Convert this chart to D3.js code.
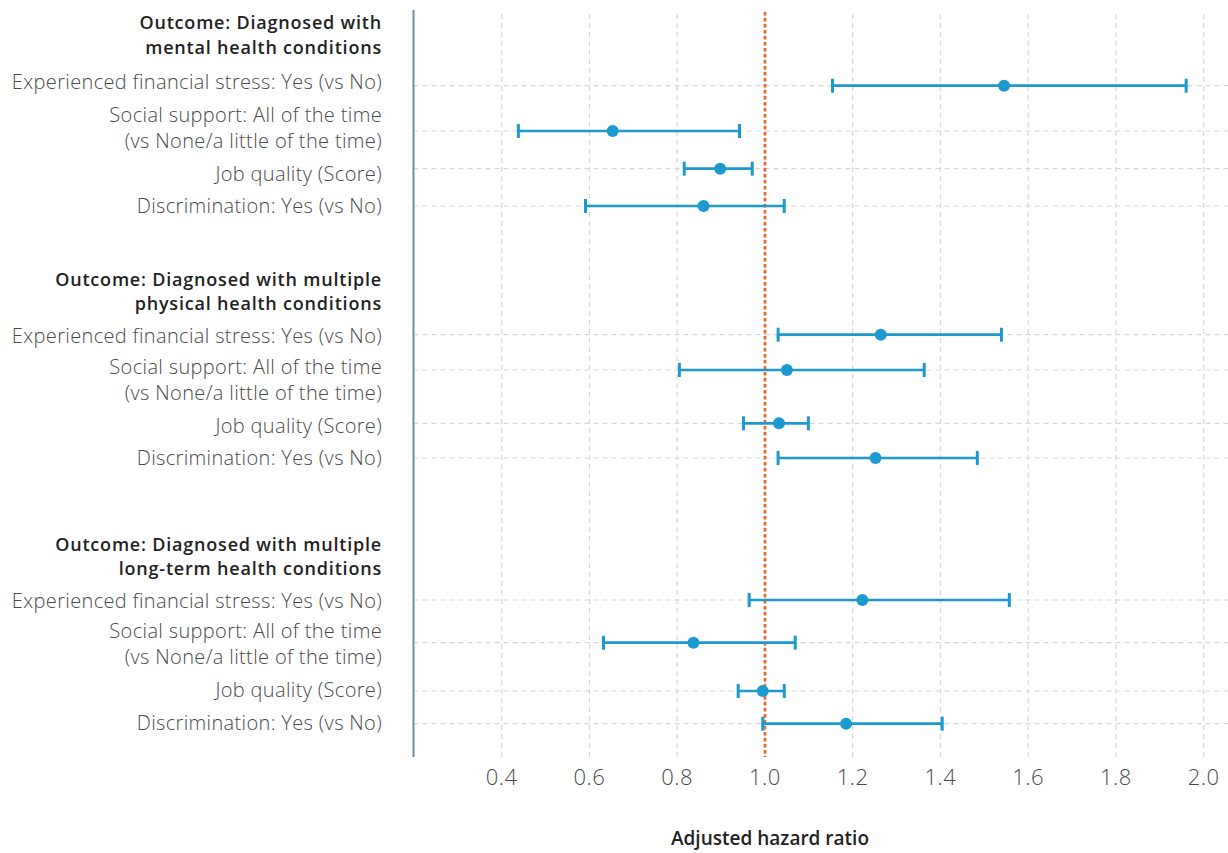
<!DOCTYPE html>
<html>
<head>
<meta charset="utf-8">
<script src="https://cdn.jsdelivr.net/npm/d3@7"></script>
<style>
  html, body { margin: 0; padding: 0; background: #fff; }
  svg { display: block; }
  text { font-family: "Open Sans", "Lato", sans-serif; }
</style>
</head>
<body>
<svg id="chart" width="1228" height="853"></svg>
<script>
// Outcomes (panel headers, two lines each)
const outcomes = [
  ["Outcome: Diagnosed with", "mental health conditions"],
  ["Outcome: Diagnosed with multiple", "physical health conditions"],
  ["Outcome: Diagnosed with multiple", "long-term health conditions"]
];

// Exposure labels (some wrap onto two lines)
const exposures = [
  ["Experienced financial stress: Yes (vs No)"],
  ["Social support: All of the time", "(vs None/a little of the time)"],
  ["Job quality (Score)"],
  ["Discrimination: Yes (vs No)"]
];

// Adjusted hazard ratios with 95% CI, one array per outcome, ordered as exposures
const estimate = [
  [1.545, 0.653, 0.898, 0.860],
  [1.264, 1.050, 1.032, 1.252],
  [1.222, 0.837, 0.995, 1.185]
];
const lower = [
  [1.154, 0.438, 0.816, 0.591],
  [1.030, 0.805, 0.951, 1.030],
  [0.964, 0.632, 0.939, 0.995]
];
const upper = [
  [1.960, 0.942, 0.971, 1.044],
  [1.539, 1.363, 1.099, 1.484],
  [1.557, 1.069, 1.044, 1.404]
];

// Vertical positions (layout units) of each row's estimate, per outcome
const rowPos = [
  [8.57, 13.10, 16.87, 20.60],
  [33.47, 37.00, 42.33, 45.80],
  [60.00, 64.27, 69.10, 72.37]
];
// Vertical positions of the exposure label lines (first line of each label)
const labelPos = [
  [8.17, 11.50, 17.40, 20.57],
  [33.60, 36.67, 42.60, 45.80],
  [60.10, 63.10, 69.00, 72.30]
];
// Vertical positions of the outcome header lines
const headerPos = [2.40, 28.07, 54.57];

const xTicks = [0.4, 0.6, 0.8, 1.0, 1.2, 1.4, 1.6, 1.8, 2.0];
const reference = 1.0;
const xTitle = "Adjusted hazard ratio";

// ---- layout ----
const plotLeft = 413.5, plotRight = 1228, plotTop = 10, plotBottom = 757;

const x = d3.scaleLinear().domain([0.4, 2.0]).range([501.7, 1203.7]);
const y = d3.scaleLinear().domain([0, 10]).range([0, 100]);

const svg = d3.select("#chart");

const colGrid = "#d3d9d7";
const colAxis = "#6e90a6";
const colMark = "#1c9ad0";
const colRef = "#f0642c";
const colLabel = "#4a4a4a";
const colHead = "#222222";

// vertical grid lines
svg.append("g").selectAll("line").data(xTicks).join("line")
  .attr("x1", d => x(d)).attr("x2", d => x(d))
  .attr("y1", plotTop + 4).attr("y2", plotBottom)
  .attr("stroke", colGrid).attr("stroke-width", 1.2)
  .attr("stroke-dasharray", "5,4");

// flatten to one record per row
const rows = [];
estimate.forEach((arr, o) => arr.forEach((v, i) => rows.push({
  o, i, est: v, lo: lower[o][i], hi: upper[o][i], pos: rowPos[o][i]
})));

// horizontal grid lines at every row
svg.append("g").selectAll("line").data(rows).join("line")
  .attr("x1", plotLeft).attr("x2", plotRight)
  .attr("y1", d => y(d.pos)).attr("y2", d => y(d.pos))
  .attr("stroke", colGrid).attr("stroke-width", 1.2)
  .attr("stroke-dasharray", "5,4");

// left axis line
svg.append("line")
  .attr("x1", plotLeft).attr("x2", plotLeft)
  .attr("y1", plotTop).attr("y2", plotBottom)
  .attr("stroke", colAxis).attr("stroke-width", 2);

// reference line at HR = 1
svg.append("line")
  .attr("x1", x(reference)).attr("x2", x(reference))
  .attr("y1", plotTop + 2).attr("y2", plotBottom)
  .attr("stroke", colRef).attr("stroke-width", 2.7)
  .attr("stroke-dasharray", "3.5,2.5");

// confidence intervals with end caps and point estimates
const ci = svg.append("g");
ci.selectAll("line.ci").data(rows).join("line").attr("class", "ci")
  .attr("x1", d => x(d.lo)).attr("x2", d => x(d.hi))
  .attr("y1", d => y(d.pos)).attr("y2", d => y(d.pos))
  .attr("stroke", colMark).attr("stroke-width", 2.7);
["lo", "hi"].forEach(k => {
  ci.selectAll("line.cap-" + k).data(rows).join("line").attr("class", "cap-" + k)
    .attr("x1", d => x(d[k])).attr("x2", d => x(d[k]))
    .attr("y1", d => y(d.pos) - 7).attr("y2", d => y(d.pos) + 7)
    .attr("stroke", colMark).attr("stroke-width", 3);
});
ci.selectAll("circle").data(rows).join("circle")
  .attr("cx", d => x(d.est)).attr("cy", d => y(d.pos)).attr("r", 6)
  .attr("fill", colMark);

// x axis tick labels
svg.append("g").selectAll("text").data(xTicks).join("text")
  .attr("x", d => x(d)).attr("y", 785)
  .attr("text-anchor", "middle")
  .attr("font-size", 22).attr("font-weight", 300).attr("fill", colLabel)
  .attr("letter-spacing", 0.5)
  .text(d => d3.format(".1f")(d));

// x axis title
svg.append("text")
  .attr("x", 770).attr("y", 845)
  .attr("text-anchor", "middle")
  .attr("font-size", 19).attr("font-weight", 600).attr("fill", colHead)
  .text(xTitle);

// multi-line right-aligned text block
const labelX = 382;
function block(lines, yFirst, lineStep, size, weight, fill, spacing) {
  const t = svg.append("text")
    .attr("text-anchor", "end")
    .attr("font-size", size).attr("font-weight", weight).attr("fill", fill)
    .attr("letter-spacing", spacing);
  lines.forEach((s, j) => {
    t.append("tspan").attr("x", labelX).attr("y", yFirst + j * lineStep).text(s);
  });
}

// outcome headers
outcomes.forEach((lines, o) => {
  block(lines, y(headerPos[o]) + 5.2, 24.5, 18, 600, colHead, 0.8);
});

// exposure labels
outcomes.forEach((_, o) => {
  exposures.forEach((lines, i) => {
    block(lines, y(labelPos[o][i]) + 7, 26, 20, 300, colLabel, 0.35);
  });
});
</script>
</body>
</html>
